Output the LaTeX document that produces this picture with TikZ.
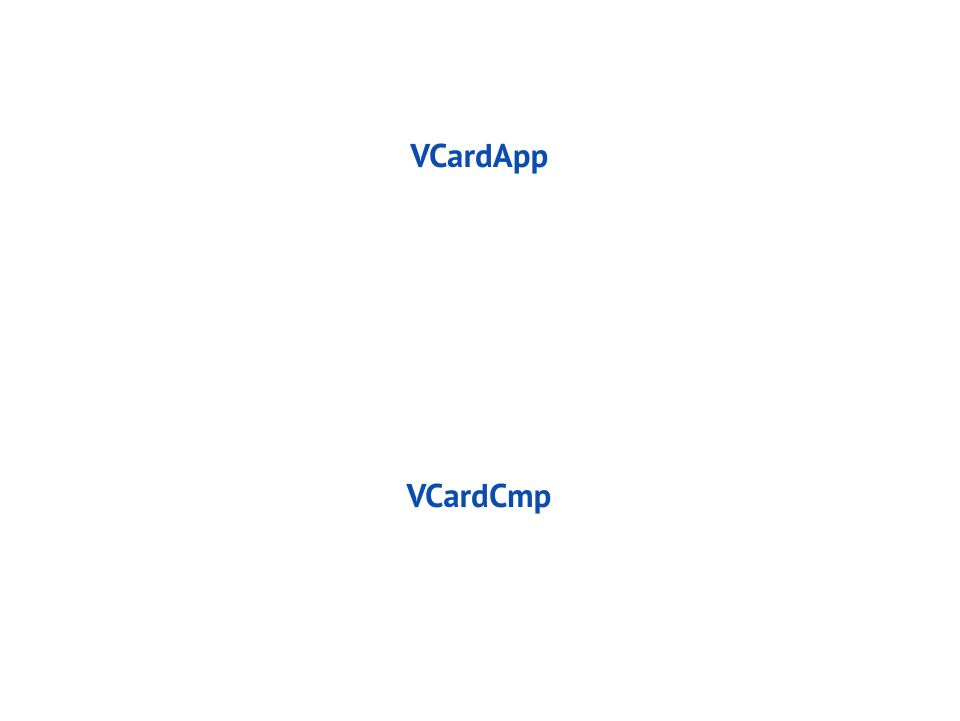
\documentclass[tikz,border=0pt]{standalone}
\usepackage{fontspec}
\setmainfont{PT Sans}
\definecolor{lbl}{HTML}{0B4DAE}
\begin{document}
\begin{tikzpicture}[x=1pt,y=-1pt,
  lab/.style={text=lbl,font=\fontsize{33}{39}\selectfont\bfseries,inner sep=0pt,anchor=base}]
\useasboundingbox (0,0) rectangle (960,720);
\node[lab] (app) at (479.5,167) {VCardApp};
\node[lab] (cmp) at (479,507) {VCardCmp};
\end{tikzpicture}
\end{document}
